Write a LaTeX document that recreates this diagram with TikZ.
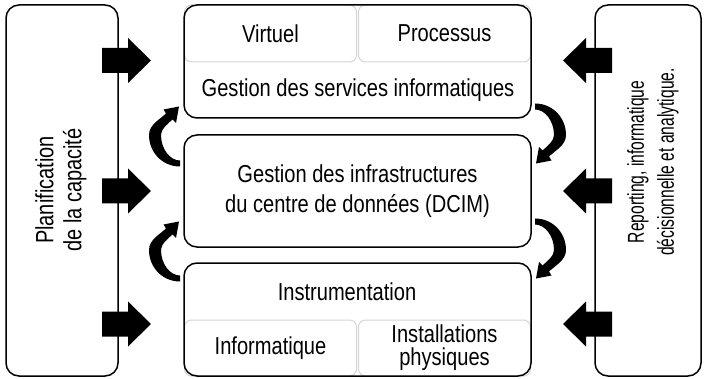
\documentclass[tikz,border=0pt]{standalone}
\usepackage{fontspec}
\setmainfont{Liberation Sans}[FakeStretch=0.82]
\newfontfamily\sidefont{Liberation Sans}[FakeStretch=0.80]
\newfontfamily\narrowfont{Liberation Sans}[FakeStretch=0.68]
\definecolor{cellgray}{HTML}{D4D4D4}
\begin{document}
\begin{tikzpicture}[x=1pt,y=1pt,
  box/.style={draw, line width=1.5pt, rounded corners=13pt, inner sep=0pt},
  cell/.style={draw=cellgray, line width=1pt, rounded corners=7pt, inner sep=0pt},
  lbl/.style={inner sep=0pt, align=center, font=\fontsize{24.5}{30}\selectfont},
  blockarrow/.pic={\fill (0,-12.5) -- (26,-12.5) -- (26,-22.5) -- (49,0) -- (26,22.5) -- (26,12.5) -- (0,12.5) -- cycle;},
  curlarrow/.pic={\fill (0,-31.5) .. controls (-17.5,-31.5) and (-31,-17.5) .. (-31,0)
      .. controls (-31,10) and (-21,15) .. (-14,21.5) -- (-16.5,25.5) -- (-1,28.5)
      -- (-4,12) -- (-7.5,15.5) .. controls (-13,10.5) and (-19,6) .. (-19,0)
      .. controls (-19,-14) and (-10,-25.5) .. (0,-25.5) -- cycle;}]
\useasboundingbox (0,0) rectangle (707,378);

% inner cells
\node[cell, minimum width=172, minimum height=57] (virt) at (270.5,344.5) {};
\node[cell, minimum width=172, minimum height=57] (proc) at (444.5,344.5) {};
\node[cell, minimum width=172, minimum height=56] (info) at (270.5,30) {};
\node[cell, minimum width=172, minimum height=56] (inst) at (444.5,30) {};

% outer boxes
\node[box, minimum width=112, minimum height=371] (plan) at (62,187.5) {};
\node[box, minimum width=106, minimum height=371] (rep) at (648,187.5) {};
\node[box, minimum width=347, minimum height=113] (gsi) at (357.5,316.5) {};
\node[box, minimum width=347, minimum height=112] (dcim) at (357.5,187) {};
\node[box, minimum width=347, minimum height=113] (instr) at (357.5,58.5) {};

% texts
\node[lbl] (tvirt) at (virt.center) {Virtuel};
\node[lbl] (tproc) at (proc.center) {Processus};
\node[lbl] (tgsi) at (358,288) {Gestion des services informatiques};
\node[lbl] (tdcim) at (dcim.center) {Gestion des infrastructures\\du centre de données (DCIM)};
\node[lbl] (tinstr) at (347,86) {Instrumentation};
\node[lbl] (tinfo) at (info.center) {Informatique};
\node[lbl, font=\fontsize{24.5}{23}\selectfont] (tinst) at (inst.center) {Installations\\physiques};
\node[lbl, rotate=90, font=\sidefont\fontsize{25}{28}\selectfont] (tplan) at (61,188) {Planification\\de la capacité};
\node[lbl, rotate=90, font=\narrowfont\fontsize{23}{30}\selectfont] (trep) at (653,216) {Reporting, informatique\\décisionnelle et analytique.};

% block arrows
\pic at (102,317.5) {blockarrow};
\pic at (102,187) {blockarrow};
\pic at (102,54) {blockarrow};
\pic[rotate=180] at (612,317.5) {blockarrow};
\pic[rotate=180] at (612,187) {blockarrow};
\pic[rotate=180] at (612,54) {blockarrow};

% curved arrows
\pic at (180,243) {curlarrow};
\pic at (180,128) {curlarrow};
\pic[rotate=180] at (535,243) {curlarrow};
\pic[rotate=180] at (535,128) {curlarrow};
\end{tikzpicture}
\end{document}
